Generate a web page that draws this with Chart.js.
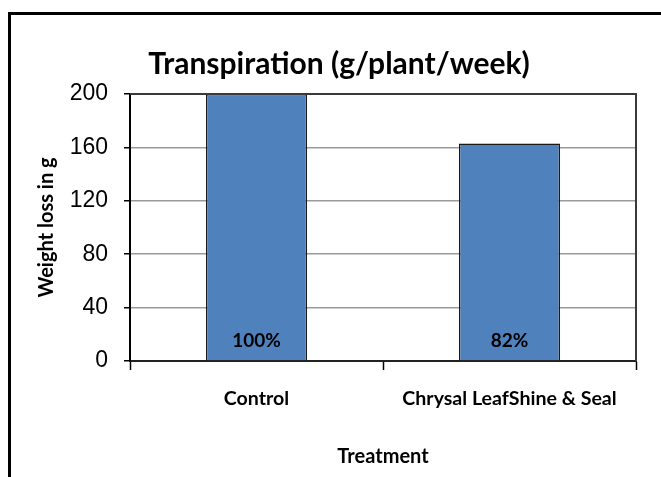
<!DOCTYPE html>
<html>
<head>
<meta charset="utf-8">
<script src="https://cdn.jsdelivr.net/npm/chart.js@4/dist/chart.umd.min.js"></script>
<style>
  html, body { margin: 0; padding: 0; background: #fff; }
  #wrap { position: relative; width: 661px; height: 477px; overflow: hidden; }
  #frame { position: absolute; left: 8px; top: 12px; width: 700px; height: 500px;
           border-left: 3px solid #000; border-top: 3px solid #000; box-sizing: border-box; }
  canvas { position: absolute; left: 0; top: 0; }
</style>
</head>
<body>
<div id="wrap">
  <div id="frame"></div>
  <canvas id="c" width="661" height="477"></canvas>
</div>
<script>
const chartTitle = 'Transpiration (g/plant/week)';
const categories = ['Control', 'Chrysal LeafShine & Seal'];
const weightLoss = [200, 163];
const percentLabels = ['100%', '82%'];
const yTicks = [0, 40, 80, 120, 160, 200];
const yTitle = 'Weight loss in g';
const xTitle = 'Treatment';

const PLOT = { left: 130, right: 636, top: 94, bottom: 361 };
const BOLD = 'Lato, "Open Sans", sans-serif';

const extras = {
  id: 'extras',
  afterDraw(chart) {
    const ctx = chart.ctx;
    const a = chart.chartArea;
    ctx.save();
    // plot frame top & right
    ctx.strokeStyle = '#3a3a3a';
    ctx.lineWidth = 2;
    ctx.beginPath();
    ctx.moveTo(a.left, a.top);
    ctx.lineTo(a.right, a.top);
    ctx.lineTo(a.right, a.bottom);
    ctx.stroke();
    // chart title
    ctx.fillStyle = '#000';
    ctx.font = 'bold 30px ' + BOLD;
    ctx.textAlign = 'center';
    ctx.textBaseline = 'middle';
    ctx.fillText(chartTitle, 339, 64);
    // bar labels
    const meta = chart.getDatasetMeta(0);
    ctx.font = 'bold 19px ' + BOLD;
    meta.data.forEach((bar, i) => {
      ctx.fillText(percentLabels[i], bar.x, 341);
    });
    ctx.restore();
  }
};

new Chart(document.getElementById('c'), {
  type: 'bar',
  data: {
    labels: categories,
    datasets: [{
      data: weightLoss,
      backgroundColor: '#4F81BD',
      borderColor: '#1a1a1a',
      borderWidth: 1.5,
      barPercentage: 0.4,
      categoryPercentage: 1.0
    }]
  },
  options: {
    responsive: false,
    animation: false,
    devicePixelRatio: 1,
    layout: { padding: { left: 0, right: 661 - PLOT.right, top: PLOT.top, bottom: 0 } },
    plugins: { legend: { display: false }, title: { display: false }, tooltip: { enabled: false } },
    scales: {
      x: {
        offset: true,
        afterFit(scale) { scale.height = 477 - PLOT.bottom; },
        grid: { offset: true, drawOnChartArea: false, drawTicks: true, tickLength: 9, tickColor: '#000', tickWidth: 1.5 },
        border: { display: true, color: '#222', width: 2 },
        ticks: { color: '#000', padding: 17, font: { family: BOLD, size: 19.6, weight: 'bold' }, maxRotation: 0, autoSkip: false },
        title: { display: true, text: xTitle, color: '#000', padding: { top: 0, bottom: 8 },
                 font: { family: BOLD, size: 20, weight: 'bold' } }
      },
      y: {
        min: 0, max: 200,
        afterFit(scale) { scale.width = PLOT.left; },
        afterBuildTicks(scale) { scale.ticks = yTicks.map(v => ({ value: v })); },
        grid: { color: '#9a9a9a', lineWidth: 1.5, drawTicks: true, tickLength: 6, tickColor: '#000', tickWidth: 1.5 },
        border: { display: true, color: '#000', width: 2 },
        ticks: { color: '#000', padding: 16, font: { family: '"Liberation Sans", Arial, sans-serif', size: 23 } },
        title: { display: true, text: yTitle, color: '#000', padding: { top: 35, bottom: 0 },
                 font: { family: BOLD, size: 20, weight: 'bold' } }
      }
    }
  },
  plugins: [extras]
});
</script>
</body>
</html>
